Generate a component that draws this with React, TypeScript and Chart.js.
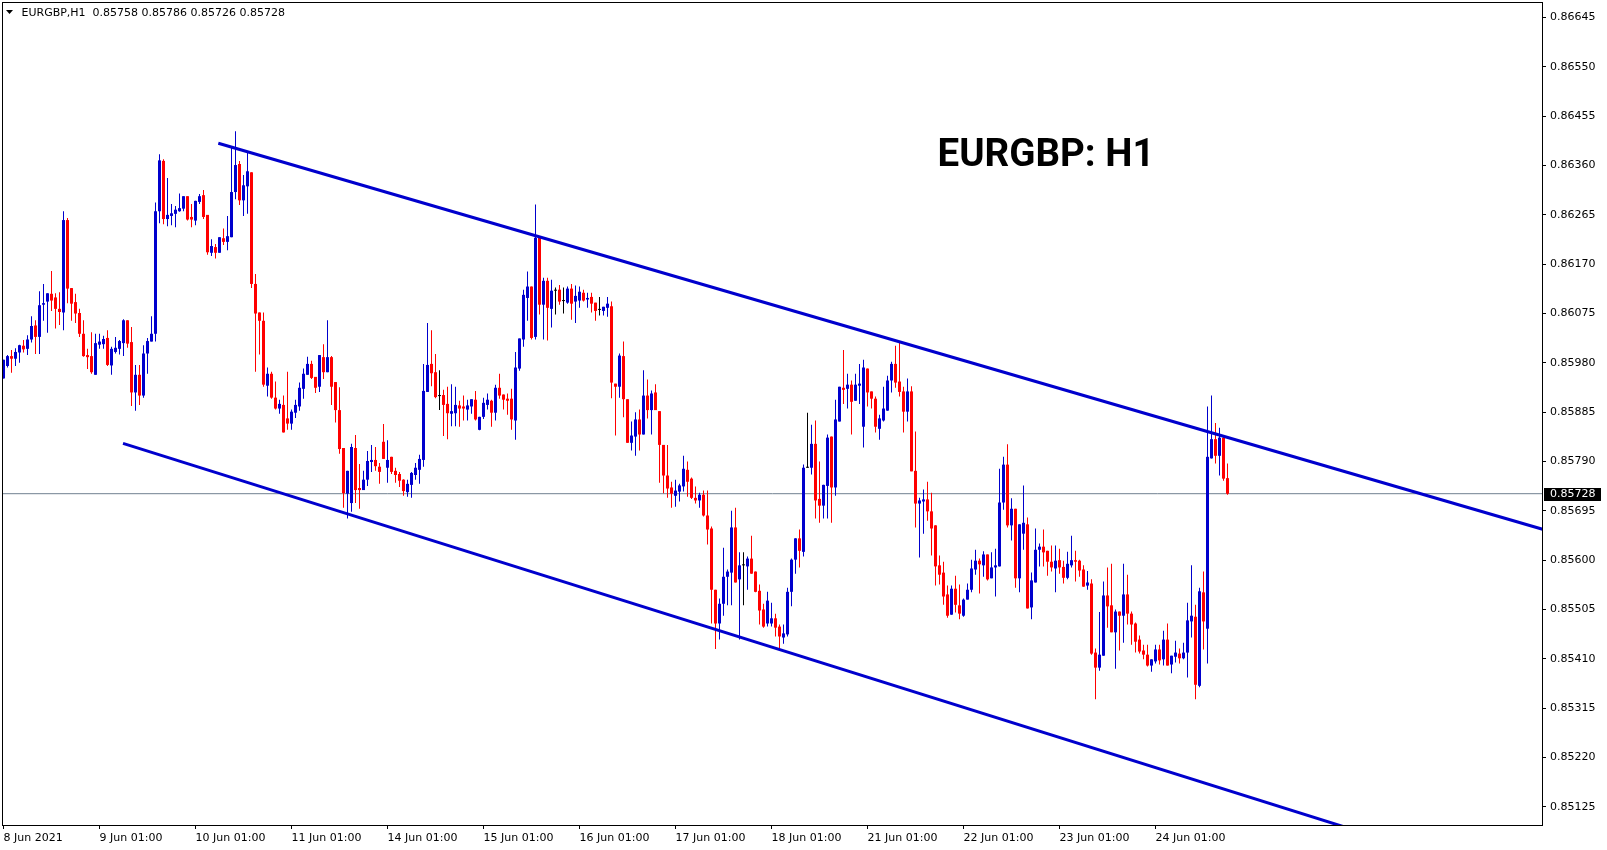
import React, { useEffect, useRef } from "react";
import { Chart, registerables } from "chart.js";

Chart.register(...registerables);

// ---------- text ----------
const symbolHeader = "EURGBP,H1";
const chartTitle = "EURGBP: H1";

// ---------- axes ----------
const timeTickIndex = [1, 25, 49, 73, 97, 121, 145, 169, 193, 217, 241, 265, 289];
const timeTickLabels = [
  "8 Jun 2021", "9 Jun 01:00", "10 Jun 01:00", "11 Jun 01:00", "14 Jun 01:00",
  "15 Jun 01:00", "16 Jun 01:00", "17 Jun 01:00", "18 Jun 01:00", "21 Jun 01:00",
  "22 Jun 01:00", "23 Jun 01:00", "24 Jun 01:00",
];
const priceTicks = [
  0.86645, 0.8655, 0.86455, 0.8636, 0.86265, 0.8617, 0.86075, 0.8598, 0.85885,
  0.8579, 0.85695, 0.856, 0.85505, 0.8541, 0.85315, 0.8522, 0.85125,
];
const priceMin = 0.85088;
const priceMax = 0.86675;
const barMin = 0.625;
const barMax = 385.875;

// ---------- H1 candles (8 Jun 01:00 -> 24 Jun) ----------
const opens = [
  0.8595, 0.85974, 0.85993, 0.85988, 0.86, 0.86013, 0.86007, 0.86025, 0.86052, 0.8603,
  0.86092, 0.86098, 0.86113, 0.86106, 0.86084, 0.86077, 0.86255, 0.86124, 0.86097, 0.86076,
  0.86036, 0.85995, 0.85993, 0.85957, 0.86015, 0.86016, 0.86028, 0.85975, 0.86001, 0.86007,
  0.86018, 0.86062, 0.8602, 0.85923, 0.85957, 0.85917, 0.85998, 0.86021, 0.86036, 0.86272,
  0.86369, 0.86257, 0.86263, 0.86267, 0.86272, 0.86277, 0.86301, 0.86261, 0.86254, 0.8629,
  0.86303, 0.86265, 0.86192, 0.86203, 0.86192, 0.8622, 0.86213, 0.86222, 0.86309, 0.86363,
  0.86293, 0.8632, 0.86347, 0.86132, 0.86077, 0.86061, 0.85936, 0.85959, 0.85913, 0.85892,
  0.85899, 0.85873, 0.85863, 0.85884, 0.85896, 0.8593, 0.85957, 0.85978, 0.85953, 0.85934,
  0.85991, 0.85962, 0.85991, 0.85943, 0.85889, 0.85816, 0.85728, 0.8571, 0.85816, 0.85739,
  0.85735, 0.85755, 0.85789, 0.85793, 0.8578, 0.85828, 0.85778, 0.85799, 0.85772, 0.85766,
  0.85755, 0.85731, 0.85745, 0.85764, 0.85774, 0.85793, 0.85924, 0.85978, 0.85962, 0.85916,
  0.85918, 0.85901, 0.85882, 0.85883, 0.85898, 0.85896, 0.8589, 0.85896, 0.85909, 0.85851,
  0.85876, 0.85899, 0.85907, 0.85884, 0.85932, 0.85919, 0.85911, 0.85911, 0.85869, 0.85969,
  0.86025, 0.86105, 0.86127, 0.8603, 0.86221, 0.86092, 0.86138, 0.86084, 0.86119, 0.86121,
  0.86099, 0.86096, 0.86123, 0.86098, 0.861, 0.86115, 0.86102, 0.86107, 0.86096, 0.86082,
  0.8608, 0.86086, 0.86089, 0.8594, 0.85934, 0.85993, 0.8591, 0.85826, 0.85838, 0.85871,
  0.85842, 0.85917, 0.85889, 0.85923, 0.85887, 0.85822, 0.85763, 0.8574, 0.85724, 0.85732,
  0.85742, 0.85774, 0.85757, 0.8572, 0.85715, 0.85726, 0.85686, 0.85661, 0.85543, 0.85478,
  0.85516, 0.85568, 0.85576, 0.85663, 0.85563, 0.8559, 0.85588, 0.85603, 0.85578, 0.85541,
  0.85505, 0.85478, 0.85478, 0.85488, 0.85472, 0.85451, 0.85457, 0.85539, 0.85601, 0.85642,
  0.85616, 0.85778, 0.85778, 0.85824, 0.85718, 0.85705, 0.85743, 0.85838, 0.8574, 0.85867,
  0.85932, 0.8593, 0.85938, 0.85907, 0.85936, 0.85857, 0.85969, 0.85925, 0.85911, 0.85853,
  0.85869, 0.85888, 0.85946, 0.85978, 0.85944, 0.85925, 0.85886, 0.85925, 0.85772, 0.85709,
  0.85713, 0.85717, 0.85694, 0.85667, 0.8559, 0.85576, 0.85534, 0.85495, 0.85545, 0.85513,
  0.85493, 0.85524, 0.85543, 0.85582, 0.85599, 0.8559, 0.85611, 0.85565, 0.85586, 0.85588,
  0.85711, 0.85784, 0.85667, 0.85699, 0.85565, 0.85651, 0.85669, 0.85509, 0.85557, 0.8562,
  0.85626, 0.85618, 0.85597, 0.85584, 0.856, 0.85587, 0.85566, 0.8559, 0.856, 0.85599,
  0.85582, 0.85551, 0.85555, 0.85422, 0.85393, 0.85416, 0.85532, 0.85513, 0.85461, 0.85501,
  0.85493, 0.85534, 0.85497, 0.85478, 0.85447, 0.85426, 0.85418, 0.85397, 0.85405, 0.85428,
  0.85409, 0.85447, 0.85399, 0.85414, 0.8542, 0.85411, 0.85422, 0.85482, 0.85491, 0.85358,
  0.85538, 0.85468, 0.85796, 0.85833, 0.85801, 0.85836, 0.85758,
];
const highs = [
  0.85986, 0.85995, 0.86005, 0.86008, 0.86015, 0.86024, 0.86033, 0.8607, 0.86062, 0.86118,
  0.86132, 0.86114, 0.86157, 0.86114, 0.86116, 0.86272, 0.86259, 0.86124, 0.86113, 0.86084,
  0.86062, 0.86007, 0.86039, 0.86036, 0.86036, 0.86032, 0.86043, 0.86011, 0.8603, 0.86024,
  0.86064, 0.86062, 0.86049, 0.85976, 0.85976, 0.86014, 0.86028, 0.8607, 0.86289, 0.86382,
  0.86372, 0.86336, 0.86286, 0.86282, 0.86306, 0.86301, 0.86301, 0.86286, 0.86292, 0.86305,
  0.86313, 0.86265, 0.86218, 0.86209, 0.86222, 0.86239, 0.86263, 0.86396, 0.86426, 0.86369,
  0.86342, 0.86386, 0.86347, 0.86151, 0.86077, 0.86077, 0.85971, 0.85963, 0.85944, 0.85909,
  0.85917, 0.85963, 0.8589, 0.85909, 0.85942, 0.85969, 0.85992, 0.85984, 0.85953, 0.85995,
  0.86016, 0.86062, 0.85993, 0.85943, 0.85933, 0.85816, 0.85772, 0.85824, 0.85841, 0.85785,
  0.85772, 0.8581, 0.85822, 0.85818, 0.85787, 0.85862, 0.85831, 0.85799, 0.85778, 0.8577,
  0.85756, 0.85755, 0.8577, 0.85787, 0.85803, 0.85978, 0.86057, 0.86043, 0.85997, 0.85966,
  0.85928, 0.85934, 0.85939, 0.85934, 0.85907, 0.85917, 0.85909, 0.8591, 0.85926, 0.85876,
  0.85913, 0.85921, 0.85909, 0.85938, 0.85959, 0.85919, 0.85921, 0.8593, 0.86001, 0.86027,
  0.86121, 0.86156, 0.86127, 0.86285, 0.86221, 0.86144, 0.86144, 0.8614, 0.86125, 0.8613,
  0.86125, 0.86127, 0.86132, 0.86129, 0.86127, 0.86121, 0.86115, 0.86115, 0.86096, 0.86107,
  0.86088, 0.86107, 0.86098, 0.8594, 0.85998, 0.86021, 0.8591, 0.85867, 0.85885, 0.8589,
  0.85966, 0.85948, 0.85927, 0.85939, 0.85887, 0.85822, 0.85822, 0.85751, 0.85755, 0.85747,
  0.85801, 0.8579, 0.85759, 0.85742, 0.8573, 0.85734, 0.85734, 0.85665, 0.85543, 0.85526,
  0.85624, 0.85582, 0.85695, 0.85701, 0.85615, 0.85615, 0.85607, 0.85647, 0.85578, 0.85553,
  0.85516, 0.85539, 0.85518, 0.85497, 0.85476, 0.85476, 0.85547, 0.85603, 0.85642, 0.85659,
  0.85784, 0.85884, 0.85861, 0.85869, 0.8579, 0.85745, 0.85842, 0.85838, 0.85909, 0.85934,
  0.86005, 0.85959, 0.85946, 0.85959, 0.85978, 0.85986, 0.85969, 0.85925, 0.85915, 0.8588,
  0.85934, 0.85955, 0.85982, 0.86013, 0.86019, 0.85934, 0.8595, 0.85935, 0.85848, 0.8572,
  0.85736, 0.85751, 0.8573, 0.85667, 0.85609, 0.85597, 0.85551, 0.85551, 0.8557, 0.85553,
  0.85526, 0.85555, 0.85601, 0.8562, 0.85603, 0.85617, 0.85611, 0.85615, 0.85622, 0.85776,
  0.85799, 0.85823, 0.85719, 0.85699, 0.85669, 0.85744, 0.85682, 0.85576, 0.85661, 0.85632,
  0.85659, 0.85618, 0.85628, 0.85628, 0.85622, 0.85599, 0.85616, 0.85647, 0.85618, 0.85601,
  0.8559, 0.85579, 0.85563, 0.8543, 0.855, 0.85559, 0.85586, 0.85593, 0.85505, 0.85501,
  0.85593, 0.85572, 0.85501, 0.8548, 0.85455, 0.85437, 0.85437, 0.85409, 0.85437, 0.85437,
  0.85464, 0.85478, 0.85416, 0.85445, 0.8543, 0.85441, 0.85518, 0.8559, 0.85514, 0.85547,
  0.85578, 0.85896, 0.85917, 0.85864, 0.85855, 0.8584, 0.85786,
];
const lows = [
  0.8595, 0.85971, 0.85961, 0.85974, 0.8598, 0.86, 0.85995, 0.86019, 0.85997, 0.85997,
  0.86061, 0.86038, 0.8608, 0.86046, 0.86053, 0.86043, 0.86095, 0.86061, 0.86057, 0.8603,
  0.85992, 0.85968, 0.85959, 0.85957, 0.86007, 0.86007, 0.85974, 0.85957, 0.85998, 0.85996,
  0.85993, 0.86009, 0.85897, 0.85888, 0.85899, 0.85913, 0.85959, 0.86021, 0.86021, 0.86249,
  0.86247, 0.86243, 0.86245, 0.86241, 0.86271, 0.86272, 0.86254, 0.86241, 0.86245, 0.86286,
  0.86257, 0.86188, 0.86186, 0.86181, 0.86192, 0.86207, 0.86197, 0.86222, 0.86295, 0.86284,
  0.86263, 0.86267, 0.86124, 0.85963, 0.85996, 0.85934, 0.85915, 0.85911, 0.8589, 0.85882,
  0.85846, 0.85851, 0.85851, 0.85874, 0.85888, 0.85911, 0.85957, 0.85949, 0.85922, 0.85924,
  0.85949, 0.85962, 0.85899, 0.85865, 0.85805, 0.85701, 0.8568, 0.85693, 0.8571, 0.85699,
  0.85735, 0.85743, 0.8577, 0.85772, 0.85747, 0.85795, 0.85749, 0.85766, 0.85749, 0.85741,
  0.85724, 0.85722, 0.8572, 0.85755, 0.85747, 0.8578, 0.85924, 0.85935, 0.85912, 0.85889,
  0.85839, 0.85833, 0.85858, 0.85858, 0.85857, 0.85869, 0.85869, 0.85882, 0.85869, 0.8585,
  0.85872, 0.8589, 0.85857, 0.85869, 0.85911, 0.8589, 0.8588, 0.85851, 0.85832, 0.85965,
  0.86011, 0.86061, 0.86025, 0.86025, 0.86073, 0.86025, 0.86023, 0.86048, 0.86073, 0.86092,
  0.86075, 0.86094, 0.86063, 0.86057, 0.86086, 0.86098, 0.86086, 0.86077, 0.86061, 0.86071,
  0.86071, 0.86069, 0.85912, 0.8584, 0.85913, 0.85875, 0.85826, 0.85811, 0.85801, 0.85811,
  0.85842, 0.85873, 0.85842, 0.85889, 0.85749, 0.85729, 0.8572, 0.85701, 0.85703, 0.85713,
  0.85732, 0.85722, 0.85718, 0.85709, 0.85701, 0.85684, 0.8563, 0.85478, 0.85429, 0.85447,
  0.85493, 0.85513, 0.85513, 0.85557, 0.85447, 0.85513, 0.85543, 0.85574, 0.85538, 0.85476,
  0.8547, 0.85472, 0.85472, 0.85453, 0.8543, 0.85439, 0.85453, 0.85511, 0.85574, 0.85586,
  0.85607, 0.85778, 0.85765, 0.8568, 0.85672, 0.8568, 0.8568, 0.85672, 0.85724, 0.85867,
  0.85901, 0.85892, 0.85842, 0.85907, 0.85901, 0.85817, 0.85896, 0.85892, 0.85846, 0.85832,
  0.85867, 0.85888, 0.85923, 0.85932, 0.85915, 0.85846, 0.85867, 0.85771, 0.85663, 0.85605,
  0.85651, 0.85676, 0.85609, 0.85551, 0.85553, 0.85514, 0.85489, 0.85495, 0.85499, 0.85486,
  0.85491, 0.85524, 0.85538, 0.85572, 0.85536, 0.85568, 0.85561, 0.85565, 0.8553, 0.85588,
  0.85697, 0.85663, 0.85638, 0.85547, 0.85538, 0.8562, 0.85507, 0.85486, 0.85557, 0.85588,
  0.85588, 0.8557, 0.85578, 0.85538, 0.85574, 0.85555, 0.85563, 0.85586, 0.85559, 0.85568,
  0.85549, 0.85543, 0.85418, 0.85332, 0.85387, 0.85416, 0.8547, 0.85461, 0.85391, 0.85426,
  0.85441, 0.85476, 0.85437, 0.85422, 0.8542, 0.85409, 0.85395, 0.85385, 0.85401, 0.85399,
  0.85397, 0.85397, 0.85382, 0.85403, 0.85401, 0.85409, 0.85374, 0.85451, 0.85332, 0.85355,
  0.85428, 0.85401, 0.85796, 0.85786, 0.85763, 0.85753, 0.85726,
];
const closes = [
  0.85986, 0.85993, 0.85988, 0.86001, 0.86014, 0.86006, 0.86025, 0.86051, 0.8603, 0.86091,
  0.86095, 0.86114, 0.861, 0.86084, 0.86078, 0.86255, 0.86123, 0.86094, 0.86075, 0.86036,
  0.85993, 0.85991, 0.85962, 0.86018, 0.86021, 0.86026, 0.85976, 0.86007, 0.86009, 0.86022,
  0.86062, 0.86017, 0.85923, 0.85957, 0.85917, 0.85998, 0.86022, 0.86036, 0.86272, 0.8637,
  0.86257, 0.86265, 0.86268, 0.86275, 0.86278, 0.86301, 0.86256, 0.86256, 0.86292, 0.86301,
  0.86261, 0.86193, 0.86205, 0.86192, 0.86222, 0.86213, 0.86224, 0.86309, 0.86361, 0.86293,
  0.86322, 0.86349, 0.86132, 0.86075, 0.86061, 0.85938, 0.85959, 0.85913, 0.85892, 0.85901,
  0.85846, 0.85863, 0.85886, 0.85899, 0.85932, 0.85959, 0.85978, 0.85951, 0.85932, 0.85995,
  0.85962, 0.85991, 0.85934, 0.85889, 0.85814, 0.85729, 0.85772, 0.85818, 0.85735, 0.85735,
  0.85755, 0.85791, 0.85793, 0.85781, 0.8577, 0.85795, 0.85793, 0.8577, 0.85764, 0.85753,
  0.85733, 0.85747, 0.85768, 0.85778, 0.85795, 0.85926, 0.85976, 0.8596, 0.85914, 0.85916,
  0.85899, 0.85883, 0.85887, 0.85899, 0.85892, 0.85892, 0.85898, 0.8591, 0.85871, 0.85876,
  0.85903, 0.85909, 0.85884, 0.85932, 0.85917, 0.85909, 0.85907, 0.85871, 0.85971, 0.86027,
  0.86111, 0.86127, 0.86028, 0.86221, 0.86092, 0.86138, 0.86086, 0.86119, 0.86119, 0.86098,
  0.86099, 0.86123, 0.86094, 0.86109, 0.86117, 0.861, 0.86105, 0.86094, 0.8608, 0.86082,
  0.86088, 0.86094, 0.85942, 0.85934, 0.85994, 0.8591, 0.85826, 0.8584, 0.85871, 0.85842,
  0.85917, 0.85889, 0.85921, 0.85889, 0.85822, 0.85763, 0.85738, 0.85728, 0.85734, 0.85744,
  0.85776, 0.85751, 0.8572, 0.85715, 0.85726, 0.85686, 0.85659, 0.85543, 0.85478, 0.85516,
  0.85568, 0.85578, 0.85663, 0.85557, 0.8559, 0.8559, 0.85603, 0.85574, 0.85539, 0.85503,
  0.85472, 0.85522, 0.85488, 0.8547, 0.85453, 0.85459, 0.85539, 0.85601, 0.85642, 0.85618,
  0.85778, 0.85778, 0.85824, 0.85715, 0.85705, 0.85745, 0.85836, 0.8574, 0.85871, 0.85934,
  0.85928, 0.85938, 0.85905, 0.85938, 0.8594, 0.85971, 0.85923, 0.85911, 0.85857, 0.85873,
  0.85892, 0.85946, 0.85978, 0.85942, 0.85924, 0.85886, 0.85925, 0.85771, 0.85709, 0.85715,
  0.85717, 0.85694, 0.85661, 0.85588, 0.85572, 0.8553, 0.85493, 0.85545, 0.85514, 0.85497,
  0.85524, 0.85543, 0.85584, 0.85599, 0.85592, 0.85611, 0.85563, 0.85586, 0.8559, 0.85711,
  0.85784, 0.85667, 0.85699, 0.85565, 0.85669, 0.85672, 0.85507, 0.85561, 0.8562, 0.85626,
  0.85615, 0.85597, 0.85586, 0.85599, 0.85586, 0.85566, 0.85593, 0.856, 0.85597, 0.8558,
  0.85549, 0.85557, 0.8542, 0.85393, 0.85418, 0.85532, 0.85511, 0.85461, 0.85501, 0.85493,
  0.85534, 0.85497, 0.85476, 0.85443, 0.85424, 0.85418, 0.85397, 0.85409, 0.85428, 0.85407,
  0.85447, 0.85397, 0.85416, 0.85422, 0.85411, 0.85422, 0.85484, 0.85493, 0.8536, 0.8554,
  0.85482, 0.85799, 0.85833, 0.85801, 0.85836, 0.85757, 0.85728,
];

// ---------- trend channel (bar index, price) ----------
const upperChannelX = [54.7, 390];
const upperChannelY = [0.86403, 0.8565];
const lowerChannelX = [30.875, 345];
const lowerChannelY = [0.85825, 0.85065];

// ---------- colours ----------
const bullColor = "#0000CD";
const bearColor = "#FF0000";
const dojiColor = "#000000";
const channelColor = "#0000CD";
const priceLineColor = "#708090";

const candleColor = (i: number) =>
  closes[i] > opens[i] ? bullColor : closes[i] < opens[i] ? bearColor : dojiColor;

const overlayPlugin = {
  id: "mt4Overlay",
  afterDraw(chart: any) {
    const { ctx, chartArea: a, scales } = chart;
    const yScale = scales.y;
    ctx.save();
    // frame
    ctx.strokeStyle = "#000";
    ctx.lineWidth = 1;
    ctx.strokeRect(a.left + 0.5, a.top + 0.5, a.right - a.left - 1, a.bottom - a.top - 1);

    // header: triangle + symbol + OHLC of the last bar
    const n = closes.length - 1;
    ctx.fillStyle = "#000";
    ctx.beginPath();
    ctx.moveTo(6, 10);
    ctx.lineTo(13, 10);
    ctx.lineTo(9.5, 14);
    ctx.closePath();
    ctx.fill();
    ctx.font = "11px 'DejaVu Sans'";
    ctx.textBaseline = "middle";
    ctx.textAlign = "left";
    const headerText =
      symbolHeader + "  " +
      [opens[n], highs[n], lows[n], closes[n]].map((v) => v.toFixed(5)).join(" ");
    ctx.fillText(headerText, 21.5, 13.5);

    // big title
    ctx.font = "bold 38.5px Roboto";
    ctx.textBaseline = "alphabetic";
    ctx.textAlign = "center";
    ctx.fillText(chartTitle, 1046, 166);

    // current price box on the price axis
    const yp = yScale.getPixelForValue(closes[n]);
    ctx.fillStyle = "#000";
    ctx.fillRect(a.right + 1, Math.round(yp) - 6, 57, 13);
    ctx.fillStyle = "#fff";
    ctx.font = "11px 'DejaVu Sans'";
    ctx.textAlign = "left";
    ctx.textBaseline = "middle";
    ctx.fillText(closes[n].toFixed(5), a.right + 7, Math.round(yp) + 0.5);
    ctx.restore();
  },
};

export default function App() {
  const ref = useRef<HTMLCanvasElement | null>(null);

  useEffect(() => {
    const canvas = ref.current;
    if (!canvas) return;
    const idx = closes.map((_, i) => i + 1);
    const last = closes[closes.length - 1];

    const chart = new Chart(canvas, {
      type: "bar",
      data: {
        datasets: [
          {
            type: "line",
            label: "upper",
            data: upperChannelX.map((x, i) => ({ x, y: upperChannelY[i] })),
            borderColor: channelColor,
            borderWidth: 3,
            pointRadius: 0,
            tension: 0,
            clip: 0,
          } as any,
          {
            type: "line",
            label: "lower",
            data: lowerChannelX.map((x, i) => ({ x, y: lowerChannelY[i] })),
            borderColor: channelColor,
            borderWidth: 3,
            pointRadius: 0,
            tension: 0,
            clip: 0,
          } as any,
          {
            type: "bar",
            label: "body",
            data: idx.map((x, i) => ({ x, y: [opens[i], closes[i]] })),
            backgroundColor: closes.map((_, i) => candleColor(i)),
            borderWidth: 0,
            barThickness: 3,
            grouped: false,
            minBarLength: 1,
            inflateAmount: 0,
          } as any,
          {
            type: "bar",
            label: "wick",
            data: idx.map((x, i) => ({ x, y: [lows[i], highs[i]] })),
            backgroundColor: closes.map((_, i) => candleColor(i)),
            borderWidth: 0,
            barThickness: 1,
            grouped: false,
            minBarLength: 1,
            inflateAmount: 0,
          } as any,
          {
            type: "line",
            label: "price",
            data: [
              { x: barMin, y: last },
              { x: barMax, y: last },
            ],
            borderColor: priceLineColor,
            borderWidth: 1,
            pointRadius: 0,
            clip: 0,
          } as any,
        ],
      },
      options: {
        responsive: false,
        animation: false,
        events: [],
        layout: { padding: { left: 2, top: 2, right: 0, bottom: 0 } },
        plugins: {
          legend: { display: false },
          tooltip: { enabled: false },
          title: { display: false },
        },
        scales: {
          x: {
            type: "linear",
            min: barMin,
            max: barMax,
            offset: false,
            afterBuildTicks: (s: any) => {
              s.ticks = timeTickIndex.map((v) => ({ value: v }));
            },
            afterFit: (s: any) => {
              s.height = 24;
              s.paddingLeft = 0;
              s.paddingRight = 0;
              s.paddingTop = 0;
              s.paddingBottom = 0;
            },
            ticks: {
              autoSkip: false,
              maxRotation: 0,
              minRotation: 0,
              align: "start",
              padding: 3,
              color: "#000",
              font: { family: "DejaVu Sans", size: 11 },
              callback: (_v: any, i: number) => timeTickLabels[i],
            },
            grid: {
              drawOnChartArea: false,
              drawTicks: true,
              tickLength: 3,
              tickColor: "#000",
              offset: false,
            },
            border: { display: false },
          },
          y: {
            type: "linear",
            position: "right",
            min: priceMin,
            max: priceMax,
            afterBuildTicks: (s: any) => {
              s.ticks = priceTicks.map((v) => ({ value: v }));
            },
            afterFit: (s: any) => {
              s.width = 64;
              s.paddingTop = 0;
              s.paddingBottom = 0;
              s.paddingLeft = 0;
              s.paddingRight = 0;
            },
            ticks: {
              autoSkip: false,
              padding: 4,
              color: "#000",
              font: { family: "DejaVu Sans", size: 11 },
              callback: (v: any) => Number(v).toFixed(5),
            },
            grid: {
              drawOnChartArea: false,
              drawTicks: true,
              tickLength: 3,
              tickColor: "#000",
            },
            border: { display: false },
          },
        },
      } as any,
      plugins: [overlayPlugin],
    });

    return () => chart.destroy();
  }, []);

  return (
    <div style={{ position: "fixed", left: 0, top: 0, width: 1607, height: 850, background: "#fff" }}>
      <canvas ref={ref} width={1607} height={850} style={{ display: "block", width: 1607, height: 850 }} />
    </div>
  );
}
